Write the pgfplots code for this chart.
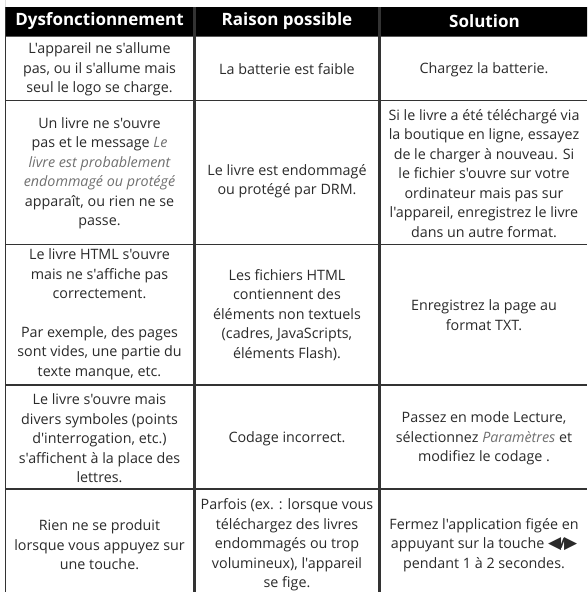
\documentclass[border=0pt]{standalone}
\usepackage{pgfplots}
\pgfplotsset{compat=1.18}
\usepackage{fontspec}
\setmainfont{Open Sans}
\newfontfamily\ofont{Open Sans}
\newfontfamily\sym{DejaVu Sans}
\definecolor{tx}{HTML}{2A2A2A}
\definecolor{it}{HTML}{707070}
\definecolor{ln}{HTML}{333333}
\newcommand{\gi}[1]{\textcolor{it}{\itshape #1}}
\tikzset{cell/.style={align=center, inner sep=0pt, text=tx, font=\ofont\fontsize{14.3}{19.5}\selectfont},
 head/.style={inner sep=0pt, text=white, font=\ofont\fontsize{17}{20}\selectfont\bfseries}}
\begin{document}
\begin{tikzpicture}
\begin{axis}[
  scale only axis, width=587pt, height=592pt,
  xmin=0, xmax=587, ymin=0, ymax=592, y dir=reverse,
  hide axis, clip=true,
]
\addplot[draw=none, fill=white] coordinates {(0,0)(587,0)(587,592)(0,592)} \closedcycle;
\addplot[draw=none, fill=black] coordinates {(5,7)(587,7)(587,36.5)(5,36.5)} \closedcycle;
% horizontal rules
\addplot[ln, line width=1.2pt, forget plot] coordinates {(5,100.8)(587,100.8)};
\addplot[ln, line width=1.2pt, forget plot] coordinates {(5,244.3)(587,244.3)};
\addplot[ln, line width=1.2pt, forget plot] coordinates {(5,385)(587,385)};
\addplot[ln, line width=1.2pt, forget plot] coordinates {(5,489)(587,489)};
% vertical rules
\addplot[ln, line width=1.3pt, forget plot] coordinates {(5.6,7)(5.6,592)};
\addplot[ln, line width=2.4pt, forget plot] coordinates {(194.5,7)(194.5,592)};
\addplot[ln, line width=2.4pt, forget plot] coordinates {(379.5,7)(379.5,592)};
% header
\node[head] at (axis cs:99.5,21.5) {Dysfonctionnement};
\node[head] at (axis cs:287,21.5) {Raison possible};
\node[head] at (axis cs:484.5,21.5) {Solution};
% row 1
\node[cell] at (axis cs:99.5,69.5) {L'appareil ne s'allume\\pas, ou il s'allume mais\\seul le logo se charge.};
\node[cell] at (axis cs:287,69.5) {La batterie est faible};
\node[cell] at (axis cs:484,69.5) {Chargez la batterie.};
% row 2
\node[cell] at (axis cs:99.5,173.5) {Un livre ne s'ouvre\\pas et le message \gi{Le}\\\gi{livre est probablement}\\\gi{endommagé ou protégé}\\apparaît, ou rien ne se\\passe.};
\node[cell] at (axis cs:287,181) {Le livre est endommagé\\ou protégé par DRM.};
\node[cell] at (axis cs:484,173.5) {Si le livre a été téléchargé via\\la boutique en ligne, essayez\\de le charger à nouveau. Si\\le fichier s'ouvre sur votre\\ordinateur mais pas sur\\l'appareil, enregistrez le livre\\dans un autre format.};
% row 3
\node[cell] at (axis cs:99.5,314.5) {Le livre HTML s'ouvre\\mais ne s'affiche pas\\correctement.\\[19pt]Par exemple, des pages\\sont vides, une partie du\\texte manque, etc.};
\node[cell] at (axis cs:287,315) {Les fichiers HTML\\contiennent des\\éléments non textuels\\(cadres, JavaScripts,\\éléments Flash).};
\node[cell] at (axis cs:484,315) {Enregistrez la page au\\format TXT.};
% row 4
\node[cell] at (axis cs:99.5,438.5) {Le livre s'ouvre mais\\divers symboles (points\\d'interrogation, etc.)\\s'affichent à la place des\\lettres.};
\node[cell] at (axis cs:287,438.5) {Codage incorrect.};
\node[cell] at (axis cs:484,438.5) {Passez en mode Lecture,\\sélectionnez \gi{Paramètres} et\\modifiez le codage .};
% row 5
\node[cell] at (axis cs:99.5,545) {Rien ne se produit\\lorsque vous appuyez sur\\une touche.};
\node[cell] at (axis cs:287,545) {Parfois (ex. : lorsque vous\\téléchargez des livres\\endommagés ou trop\\volumineux), l'appareil\\se fige.};
\node[cell] at (axis cs:484,545) {Fermez l'application figée en\\appuyant sur la touche {\sym\fontsize{17}{19.5}\selectfont ◀}\kern-1.5pt{\bfseries/}\kern-1.5pt{\sym\fontsize{17}{19.5}\selectfont ▶}\\pendant 1 à 2 secondes.};
\end{axis}
\end{tikzpicture}
\end{document}
